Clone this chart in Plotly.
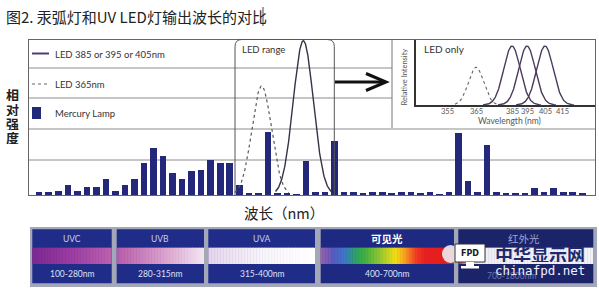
import numpy as np
import plotly.graph_objects as go

W, H = 599, 291

# ---------------- data ----------------
# Mercury lamp emission lines, relative intensity per spectral channel
CHANNELS = list(range(1, 59))
MERCURY = [3, 3, 4, 10, 4, 7.6, 7.6, 16, 4, 10,
           16, 32, 46.6, 38.6, 22, 16, 23.6, 25, 35, 32,
           32, 10, 2.5, 2.5, 62.7, 2.5, 2.5, 1, 34, 3.3,
           3.3, 54.3, 3.3, 2.7, 1.7, 2.7, 3.3, 2.3, 2.7, 3.3,
           2.3, 2.7, 1, 3.3, 62.3, 14.3, 2.7, 50, 2.7, 1.7,
           2.3, 2.3, 6.7, 2.7, 6.7, 2.7, 2.7, 1.7]

# LED emission bands on the channel scale: (centre, peak, width)
LED365_MAIN = (24.35, 109.0, 1.03)
LEDUV_MAIN = (28.72, 154.3, 1.06)
GRID_LEVELS = [35, 66, 97, 127]

# "LED only" inset: wavelength ticks and their places on the inset axis
INSET_TICK_NM = [355, 365, 385, 395, 405, 415]
INSET_TICK_POS = [31, 60, 96, 111, 129, 146]
LED_UV_PEAKS_NM = [385, 395, 405]
LED365_PEAK_NM = 365
LED365_REL = 0.64

# spectral regions
BAND_NAMES = ["UVC", "UVB", "UVA", "可见光", "红外光"]
BAND_RANGES = ["100-280nm", "280-315nm", "315-400nm", "400-700nm", "700-1800nm"]

CJK = "Noto Sans CJK SC"
LAT = "Lato"


def px(x):
    return x / W


def py(y):
    return 1 - y / H


shapes, annotations = [], []


def text(x, y, s, size, color="#333", family=LAT, xanchor="center", weight="normal", **kw):
    annotations.append(dict(x=px(x), y=py(y), xref="paper", yref="paper", text=s,
                            showarrow=False, xanchor=xanchor, yanchor="middle",
                            font=dict(size=size, color=color, family=family, weight=weight), **kw))


def rect(x0, y0, x1, y1, fill, line=None, lw=0):
    shapes.append(dict(type="rect", xref="paper", yref="paper", x0=px(x0), x1=px(x1),
                       y0=py(y1), y1=py(y0), fillcolor=fill,
                       line=dict(width=lw, color=line or fill)))


def seg(x0, y0, x1, y1, color, width=1, dash="solid"):
    shapes.append(dict(type="line", xref="paper", yref="paper", x0=px(x0), x1=px(x1),
                       y0=py(y0), y1=py(y1), line=dict(color=color, width=width, dash=dash)))


def hex2rgb(h):
    h = h.lstrip("#")
    return np.array([int(h[i:i + 2], 16) for i in (0, 2, 4)], dtype=float)


def gradient(x0, x1, y0, y1, stops, step=1.5):
    fr = [s[0] for s in stops]
    cols = np.array([hex2rgb(s[1]) for s in stops])
    n = max(2, int(round((x1 - x0) / step)))
    w = (x1 - x0) / n
    for i in range(n):
        f = (i + 0.5) / n
        c = [np.interp(f, fr, cols[:, k]) for k in range(3)]
        col = "rgb(%d,%d,%d)" % tuple(int(round(v)) for v in c)
        rect(x0 + i * w, y0, min(x1, x0 + (i + 1) * w + 0.5), y1, col)


fig = go.Figure()

# ---------------- main chart ----------------
fig.add_trace(go.Bar(x=CHANNELS, y=MERCURY, width=0.69, marker=dict(color="#23287a", line=dict(width=0)),
                     xaxis="x", yaxis="y"))

for (c, peak, s), color, dash, lw in [(LED365_MAIN, "#5a5a5a", "dot", 1.2),
                                      (LEDUV_MAIN, "#3a3048", "solid", 1.4)]:
    xs = np.linspace(c - 2.75 * s, c + 2.75 * s, 160)
    ys = peak * np.exp(-0.5 * ((xs - c) / s) ** 2)
    fig.add_trace(go.Scatter(x=xs, y=ys, mode="lines", line=dict(color=color, dash=dash, width=lw),
                             xaxis="x", yaxis="y"))

# gridlines (the upper two stop at the inset panel)
for lv in GRID_LEVELS:
    x1 = 392 if lv > 90 else 595
    shapes.append(dict(type="line", xref="paper", yref="y", x0=px(29), x1=px(x1), y0=lv, y1=lv,
                       line=dict(color="#8c8c8c", width=1), layer="below"))

# legend rows
seg(32, 53.5, 49, 53.5, "#4e3a78", 2)
seg(32, 84, 49, 84, "#666", 1.2, "dot")
rect(32, 107, 41, 119, "#23287a")
text(53, 54, "LED 385 or 395 or 405nm", 9.5, xanchor="left")
text(53, 84.5, "LED 365nm", 9.5, xanchor="left")
text(53, 113.5, "Mercury Lamp", 9.5, xanchor="left")

# LED range frame with rounded top corners
r = 7
x0, x1, yt, yb = 235, 334.3, 39.5, 195
path = (f"M {px(x0)},{py(yb)} L {px(x0)},{py(yt + r)} Q {px(x0)},{py(yt)} {px(x0 + r)},{py(yt)} "
        f"L {px(x1 - r)},{py(yt)} Q {px(x1)},{py(yt)} {px(x1)},{py(yt + r)} L {px(x1)},{py(yb)}")
shapes.append(dict(type="path", xref="paper", yref="paper", path=path, line=dict(color="#555", width=1)))
text(263, 49, "LED range", 9.5)

# arrow to the inset
seg(335, 82, 384, 82, "#111", 3)
shapes.append(dict(type="path", xref="paper", yref="paper",
                   path=f"M {px(366)},{py(73.5)} L {px(386)},{py(82)} L {px(366)},{py(90.5)}",
                   line=dict(color="#111", width=3)))

# inset panel edge
seg(392, 40, 392, 128, "#777", 1)

# ---------------- inset ----------------
def warp(nm):
    return np.interp(nm, INSET_TICK_NM, INSET_TICK_POS)


c = warp(LED365_PEAK_NM)
xs = np.linspace(c - 21, c + 21, 120)
fig.add_trace(go.Scatter(x=xs, y=LED365_REL * np.exp(-0.5 * ((xs - c) / 7.6) ** 2), mode="lines",
                         line=dict(color="#666", dash="dot", width=1.1), xaxis="x2", yaxis="y2"))
for nm in LED_UV_PEAKS_NM:
    c = warp(nm)
    xs = np.linspace(c - 29, c + 29, 160)
    fig.add_trace(go.Scatter(x=xs, y=np.exp(-0.5 * ((xs - c) / 8.3) ** 2), mode="lines",
                             line=dict(color="#4a3a5e", width=1.4), xaxis="x2", yaxis="y2"))

# inset wavelength tick labels, placed on the inset axis
for pos, nm in zip(INSET_TICK_POS, INSET_TICK_NM):
    annotations.append(dict(x=pos, xref="x2", y=py(111), yref="paper", text=str(nm), showarrow=False,
                            xanchor="center", yanchor="middle", borderpad=0,
                            font=dict(size=7.5, color="#555", family=LAT)))

text(422, 49, "LED only", 10, xanchor="left")
text(404, 77.5, "Relative Intensity", 7.5, color="#555", textangle=-90)
text(509.5, 120.5, "Wavelength (nm)", 8.5, color="#555")

# ---------------- axis titles / title ----------------
text(4, 16.5, "图2. 汞弧灯和UV LED灯输出波长的对比", 15, color="#222", family=CJK, xanchor="left")
seg(263, 7, 263, 26, "#444", 1)
for ch, yy in zip("相对强度", [95, 109, 123, 137]):
    text(12, yy, ch, 13, color="#222", family=CJK, weight="bold", height=13, borderpad=0)
text(284, 212, "波长（nm）", 14.5, color="#222", family=CJK)

# ---------------- spectral region band ----------------
rect(30, 227, 597, 287, "#a3a7b8")
box_x = [(32.3, 111.7), (116.7, 204), (208.3, 315), (320.7, 454), (458.3, 593.3)]
box_fill = ["#1f2c88", "#1f2c88", "#1f2c88", "#1e2a82", "#1b2468"]
strips = [
    [(0, "#7d2890"), (0.5, "#9c3da2"), (1, "#bd62ad")],
    [(0, "#b95ca8"), (0.5, "#d99ccb"), (1, "#f2e6f2")],
    [(0, "#e6d6ec"), (0.5, "#f8f4fa"), (1, "#ffffff")],
    [(0, "#a060a8"), (0.09, "#5a5ac0"), (0.18, "#3a78c8"), (0.26, "#30a068"), (0.33, "#40b040"),
     (0.45, "#98c830"), (0.56, "#f2e010"), (0.63, "#f8a020"), (0.71, "#f04020"), (0.78, "#e82020"),
     (1, "#e01a1a")],
    [(0, "#b82838"), (0.06, "#e0a8b8"), (0.15, "#eeeef4"), (1, "#f2f2f7")],
]
for (bx0, bx1), fill, st in zip(box_x, box_fill, strips):
    rect(bx0, 229.3, bx1, 283.3, fill)
    gradient(bx0, bx1, 247.7, 264, st)

for (bx0, bx1), name, rng in zip(box_x, BAND_NAMES, BAND_RANGES):
    cx = (bx0 + bx1) / 2
    if name == "可见光":
        text(cx, 238.5, name, 10.5, color="#ffffff", family=CJK, weight="bold")
        text(cx, 274, rng, 8.5, color="#dde0f7")
    elif name == "红外光":
        text(cx - 2, 238, name, 10.5, color="#9ea4d6", family=CJK, height=13, borderpad=0)
        text(cx - 14, 276, rng, 8.5, color="#6d74b0")
    else:
        text(cx, 238.5, name, 8.5, color="#c9cdf2")
        text(cx, 274, rng, 8.5, color="#dde0f7")

# site mark
shapes.append(dict(type="circle", xref="paper", yref="paper", x0=px(442), x1=px(459), y0=py(263),
                   y1=py(245), fillcolor="rgba(236,236,242,0.9)", line=dict(width=0)))
rect(455, 244, 485, 262, "#ffffff", "#333", 1)
rect(466, 262, 474, 266, "#ffffff")
rect(461, 266, 479, 268.5, "#ffffff")
text(470, 253, "FPD", 8, color="#1a1a1a", family="DejaVu Sans", weight="bold")
text(539.5, 253.5, "中华显示网", 18, color="#1f2a6e", family=CJK, weight="bold", height=17, borderpad=0)
text(540, 270.5, "chinafpd.net", 12.5, color="#f0f2ff", family="DejaVu Sans Mono")

# ---------------- layout ----------------
lo = 1 + (29 - 39.2) / 9.528
hi = 1 + (595 - 39.2) / 9.528
fig.update_layout(
    width=W, height=H, autosize=False, margin=dict(l=0, r=0, t=0, b=0, pad=0),
    showlegend=False, plot_bgcolor="white", paper_bgcolor="white", bargap=0,
    xaxis=dict(domain=[px(29), px(595)], range=[lo, hi], anchor="y", showgrid=False, zeroline=False,
               showticklabels=False, ticks="", showline=True, mirror=True, linecolor="#666", linewidth=1),
    yaxis=dict(domain=[py(195), py(40)], range=[0, 155], anchor="x", showgrid=False, zeroline=False,
               showticklabels=False, ticks="", showline=True, mirror=True, linecolor="#666", linewidth=1),
    xaxis2=dict(domain=[px(416), px(595)], range=[0, 179], anchor="y2", showgrid=False, zeroline=False,
                showticklabels=False, ticks="", showline=True, linecolor="#333", linewidth=1.6),
    yaxis2=dict(domain=[py(105), py(40)], range=[0, 65 / 59], anchor="x2", showgrid=False,
                zeroline=False, showticklabels=False, ticks="", showline=True, linecolor="#333",
                linewidth=1.6),
    shapes=shapes, annotations=annotations,
)

fig.write_html("out.html")
